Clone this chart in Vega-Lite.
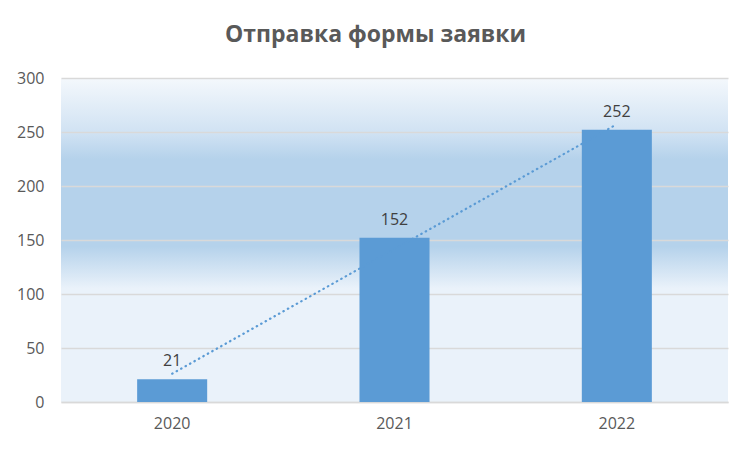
{
  "$schema": "https://vega.github.io/schema/vega-lite/v6.json",
  "autosize": "none",
  "width": 667,
  "height": 324,
  "padding": {"left": 61, "top": 78, "right": 24, "bottom": 50},
  "background": "white",
  "title": {
    "text": "Отправка формы заявки",
    "font": "Open Sans",
    "fontSize": 23,
    "fontWeight": "bold",
    "color": "#595959",
    "anchor": "middle",
    "frame": "group",
    "dx": -19,
    "offset": 23
  },
  "data": {
    "values": [
      {"year": "2020", "count": 21, "trend": 26.2},
      {"year": "2021", "count": 152, "trend": 141.7},
      {"year": "2022", "count": 252, "trend": 257.2}
    ]
  },
  "encoding": {
    "x": {
      "field": "year",
      "type": "nominal",
      "title": null,
      "scale": {"paddingInner": 0, "paddingOuter": 0},
      "axis": {
        "labelAngle": 0,
        "labelFont": "Open Sans",
        "labelFontSize": 16,
        "labelColor": "#595959",
        "labelPadding": 13,
        "ticks": false,
        "domainColor": "#d9d9d9",
        "domainWidth": 1.5,
        "grid": false
      }
    }
  },
  "layer": [
    {
      "mark": {"type": "bar", "color": "#5b9bd5", "width": {"band": 0.315}},
      "encoding": {
        "y": {
          "field": "count",
          "type": "quantitative",
          "title": null,
          "scale": {"domain": [0, 300]},
          "axis": {
            "values": [0, 50, 100, 150, 200, 250, 300],
            "labelFont": "Open Sans",
            "labelFontSize": 16,
            "labelColor": "#595959",
            "labelPadding": 17,
            "ticks": false,
            "domain": false,
            "gridColor": "#d9d9d9",
            "gridWidth": 1.3
          }
        }
      }
    },
    {
      "mark": {
        "type": "line",
        "color": "#5b9bd5",
        "strokeWidth": 2.2,
        "strokeDash": [0.5, 4.6],
        "strokeCap": "round"
      },
      "encoding": {
        "x": {"field": "year", "type": "nominal", "bandPosition": 0.5},
        "y": {"field": "trend", "type": "quantitative"}
      }
    },
    {
      "mark": {
        "type": "text",
        "font": "Open Sans",
        "fontSize": 16,
        "color": "#404040",
        "baseline": "alphabetic",
        "dy": -13
      },
      "encoding": {
        "x": {"field": "year", "type": "nominal", "bandPosition": 0.5},
        "y": {"field": "count", "type": "quantitative"},
        "text": {"field": "count", "type": "quantitative"}
      }
    }
  ],
  "config": {
    "view": {
      "stroke": null,
      "fill": {
        "gradient": "linear",
        "x1": 0, "y1": 0, "x2": 0, "y2": 1,
        "stops": [
          {"offset": 0, "color": "#f4f8fc"},
          {"offset": 0.17, "color": "#d0e2f3"},
          {"offset": 0.25, "color": "#b5d2eb"},
          {"offset": 0.52, "color": "#b5d2eb"},
          {"offset": 0.65, "color": "#eaf2fa"},
          {"offset": 1, "color": "#eaf2fa"}
        ]
      }
    }
  }
}
